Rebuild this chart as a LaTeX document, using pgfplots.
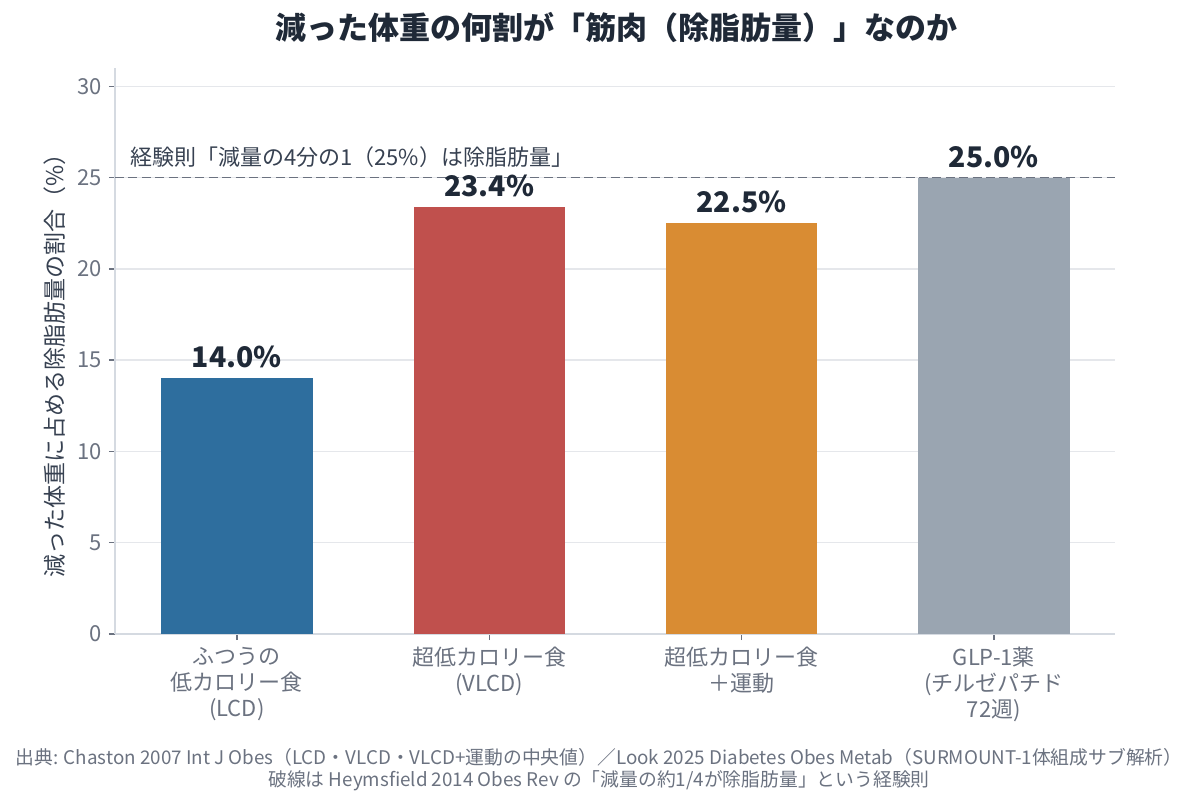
\documentclass[border=0pt]{standalone}
\usepackage{fontspec}
\setmainfont{Noto Sans CJK JP}
\usepackage{pgfplots}
\pgfplotsset{compat=1.18}
\definecolor{cblue}{HTML}{2E6E9E}
\definecolor{cred}{HTML}{C0504D}
\definecolor{corange}{HTML}{D98C33}
\definecolor{cgray}{HTML}{9AA5B1}
\definecolor{darktext}{HTML}{1F2937}
\definecolor{labeltext}{HTML}{374151}
\definecolor{tickc}{HTML}{6B7280}
\definecolor{spinec}{HTML}{D5DAE1}
\definecolor{gridc}{HTML}{E5E7EB}
\definecolor{refline}{HTML}{6B7280}
\begin{document}
\begin{tikzpicture}
\path[use as bounding box] (0,0) rectangle (599pt,404.5pt);
\begin{axis}[
  at={(57.5pt,87.5pt)}, anchor=south west,
  width=500pt, height=283pt, scale only axis,
  xmin=-0.483, xmax=3.48, ymin=0, ymax=31,
  axis x line*=bottom, axis y line*=left,
  axis line style={color=spinec, line width=0.8pt, -},
  ytick={0,5,10,15,20,25,30},
  xtick={0,1,2,3},
  xticklabels={{ふつうの\\低カロリー食\\(LCD)},{超低カロリー食\\(VLCD)},{超低カロリー食\\＋運動},{GLP-1薬\\(チルゼパチド\\72週)}},
  xticklabel style={align=center, font=\fontsize{11}{13}\selectfont, text=tickc},
  yticklabel style={font=\fontsize{11}{13}\selectfont, text=tickc},
  tick style={color=tickc, line width=0.7pt},
  major tick length=3pt,
  tick align=outside,
  ymajorgrids, grid style={color=gridc, line width=0.7pt},
  /pgf/number format/assume math mode=true,
  clip=false,
  nodes near coords style={font=\bfseries\fontsize{14.2}{17}\selectfont, text=darktext, anchor=south, yshift=1.5pt},
]
\addplot[ybar, bar width=0.6, bar shift=0pt, fill=cblue, draw=none, nodes near coords, point meta=explicit symbolic] coordinates {(0,14.0) [14.0\%]};
\addplot[ybar, bar width=0.6, bar shift=0pt, fill=cred, draw=none, nodes near coords, point meta=explicit symbolic] coordinates {(1,23.4) [23.4\%]};
\addplot[ybar, bar width=0.6, bar shift=0pt, fill=corange, draw=none, nodes near coords, point meta=explicit symbolic] coordinates {(2,22.5) [22.5\%]};
\addplot[ybar, bar width=0.6, bar shift=0pt, fill=cgray, draw=none, nodes near coords, point meta=explicit symbolic] coordinates {(3,25.0) [25.0\%]};
\addplot[refline, line width=0.9pt, dash pattern=on 4.5pt off 2.2pt, mark=none] coordinates {(-0.483,25) (3.48,25)};
\node[anchor=west, font=\fontsize{11}{13}\selectfont, text=labeltext, inner sep=0pt] at (axis cs:-0.425,26.1) {経験則「減量の4分の1（25\%）は除脂肪量」};
\end{axis}
\node[font=\bfseries\fontsize{15.5}{18}\selectfont, text=darktext] at (308pt,390.5pt) {減った体重の何割が「筋肉（除脂肪量）」なのか};
\node[rotate=90, font=\fontsize{11.5}{14}\selectfont, text=labeltext] at (27.5pt,224.5pt) {減った体重に占める除脂肪量の割合（\%）};
\node[font=\fontsize{9.4}{11}\selectfont, text=tickc] at (299.5pt,26pt) {出典: Chaston 2007 Int J Obes（LCD・VLCD・VLCD+運動の中央値）／Look 2025 Diabetes Obes Metab（SURMOUNT-1体組成サブ解析）};
\node[font=\fontsize{9.4}{11}\selectfont, text=tickc] at (299.5pt,14pt) {破線は Heymsfield 2014 Obes Rev の「減量の約1/4が除脂肪量」という経験則};
\end{tikzpicture}
\end{document}
